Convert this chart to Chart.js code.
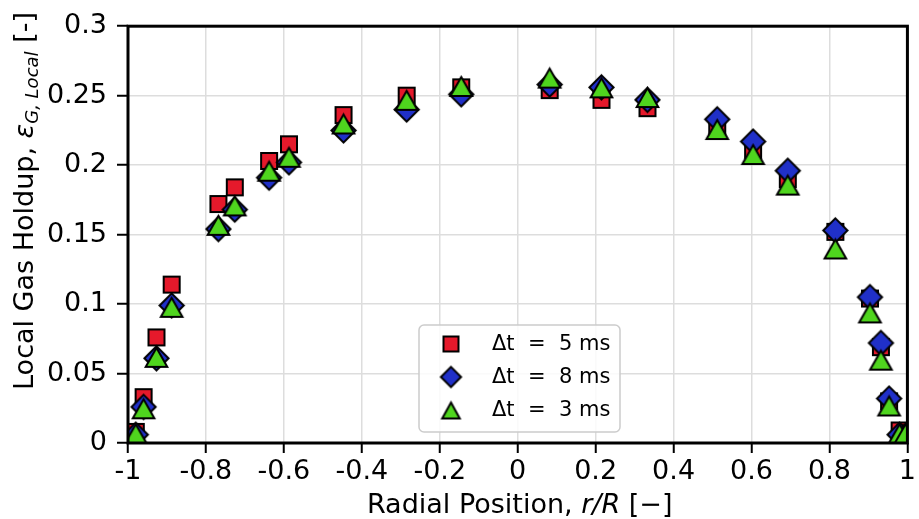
<!DOCTYPE html>
<html>
<head>
<meta charset="utf-8">
<script src="https://cdn.jsdelivr.net/npm/chart.js@4.4.1/dist/chart.umd.min.js"></script>
<style>
  html, body { margin: 0; padding: 0; background: #fff; }
</style>
</head>
<body>
<canvas id="myChart" width="919" height="519"></canvas>
<script>
// radial positions r/R of the measurement points
var radialPos = [-0.98, -0.96, -0.927, -0.888, -0.768, -0.726, -0.638, -0.587, -0.447, -0.285, -0.145,
  0.082, 0.215, 0.333, 0.512, 0.604, 0.693, 0.815, 0.904, 0.932, 0.953, 0.98, 0.995];

// local gas holdup for each time step
var holdup5ms = [0.008, 0.033, 0.076, 0.114, 0.172, 0.184, 0.203, 0.215, 0.236, 0.250, 0.256,
  0.254, 0.247, 0.241, 0.227, 0.211, 0.190, 0.152, 0.104, 0.069, 0.030, 0.009, 0.007];
var holdup8ms = [0.006, 0.026, 0.061, 0.099, 0.154, 0.168, 0.191, 0.202, 0.225, 0.240, 0.251,
  0.258, 0.256, 0.247, 0.233, 0.217, 0.196, 0.153, 0.105, 0.072, 0.032, 0.006, 0.005];
var holdup3ms = [0.007, 0.025, 0.062, 0.098, 0.157, 0.171, 0.196, 0.206, 0.230, 0.247, 0.257,
  0.263, 0.256, 0.249, 0.226, 0.208, 0.186, 0.140, 0.094, 0.060, 0.027, 0.007, 0.007];

var seriesLabels = ['\u0394t  =  5 ms', '\u0394t  =  8 ms', '\u0394t  =  3 ms'];

var xTicks = [-1, -0.8, -0.6, -0.4, -0.2, 0, 0.2, 0.4, 0.6, 0.8, 1];
var xTickLabels = ['-1', '-0.8', '-0.6', '-0.4', '-0.2', '0', '0.2', '0.4', '0.6', '0.8', '1'];
var yTicks = [0, 0.05, 0.1, 0.15, 0.2, 0.25, 0.3];
var yTickLabels = ['0', '0.05', '0.1', '0.15', '0.2', '0.25', '0.3'];

var RED = '#e5192b';
var BLUE = '#2030c8';
var GREEN = '#4fd51e';
var FONT = 'DejaVu Sans';

// marker images, shapes centred on their bounding box like matplotlib
function makeMarker(shape, fill, w, h) {
  var c = document.createElement('canvas');
  c.width = w + 4;
  c.height = h + 4;
  var ctx = c.getContext('2d');
  var cx = c.width / 2, cy = c.height / 2;
  ctx.fillStyle = fill;
  ctx.strokeStyle = '#000';
  ctx.lineWidth = 2;
  ctx.lineJoin = 'miter';
  ctx.beginPath();
  if (shape == 'square') {
    ctx.rect(cx - w / 2 + 1, cy - h / 2 + 1, w - 2, h - 2);
  } else if (shape == 'diamond') {
    var a = w / 2 - 1.4, b = h / 2 - 1.4;
    ctx.moveTo(cx, cy - b);
    ctx.lineTo(cx + a, cy);
    ctx.lineTo(cx, cy + b);
    ctx.lineTo(cx - a, cy);
    ctx.closePath();
  } else {
    ctx.moveTo(cx, cy - h / 2 + 2);
    ctx.lineTo(cx + w / 2 - 1.7, cy + h / 2 - 1);
    ctx.lineTo(cx - w / 2 + 1.7, cy + h / 2 - 1);
    ctx.closePath();
  }
  ctx.fill();
  ctx.stroke();
  return c;
}

var markers = [makeMarker('square', RED, 18, 18), makeMarker('diamond', BLUE, 27, 27), makeMarker('triangle', GREEN, 25, 22)];
var legendMarkers = [makeMarker('square', RED, 17, 17), makeMarker('diamond', BLUE, 23, 23), makeMarker('triangle', GREEN, 21, 19)];

function points(ys) {
  return radialPos.map(function (x, i) { return { x: x, y: ys[i] }; });
}

// black box around the plot area
var framePlugin = {
  id: 'frame',
  afterDatasetsDraw: function (chart) {
    var a = chart.chartArea, ctx = chart.ctx;
    ctx.save();
    ctx.strokeStyle = '#000';
    ctx.lineWidth = 3;
    ctx.strokeRect(a.left, a.top, a.right - a.left, a.bottom - a.top);
    ctx.restore();
  }
};

// axis titles (italic / subscript parts) and the boxed legend
var textPlugin = {
  id: 'texts',
  afterDraw: function (chart) {
    var ctx = chart.ctx, a = chart.chartArea;
    ctx.save();
    ctx.fillStyle = '#000';
    ctx.textBaseline = 'alphabetic';
    ctx.textAlign = 'left';

    // x title
    drawParts(ctx, [['Radial Position, ', '27px ' + FONT, 0], ['r/R', 'italic 27px ' + FONT, 0],
      [' [\u2212]', '27px ' + FONT, 0]], (a.left + a.right) / 2 + 2, 513);

    // y title
    ctx.save();
    ctx.translate(33, 201);
    ctx.rotate(-Math.PI / 2);
    drawParts(ctx, [['Local Gas Holdup, ', '27px ' + FONT, 0], ['\u03b5', 'italic 27px ' + FONT, 0],
      ['G, Local', 'italic 18px ' + FONT, 5], [' [-]', '27px ' + FONT, 0]], 0, 0);
    ctx.restore();

    // legend
    var lx = 419, ly = 325, lw = 201, lh = 107;
    ctx.beginPath();
    if (ctx.roundRect) ctx.roundRect(lx, ly, lw, lh, 5); else ctx.rect(lx, ly, lw, lh);
    ctx.fillStyle = 'rgba(255,255,255,0.85)';
    ctx.fill();
    ctx.strokeStyle = '#cccccc';
    ctx.lineWidth = 1.5;
    ctx.stroke();
    ctx.fillStyle = '#000';
    ctx.font = '21px ' + FONT;
    ctx.textBaseline = 'middle';
    var rows = [344, 377, 410];
    chart.data.datasets.forEach(function (ds, i) {
      var m = legendMarkers[i];
      ctx.drawImage(m, 451 - m.width / 2, rows[i] - m.height / 2);
      ctx.fillText(ds.label, 492, rows[i] + 1);
    });
    ctx.restore();
  }
};

function drawParts(ctx, parts, cx, baseY) {
  var total = 0;
  parts.forEach(function (p) { ctx.font = p[1]; total += ctx.measureText(p[0]).width; });
  var x = cx - total / 2;
  parts.forEach(function (p) {
    ctx.font = p[1];
    ctx.fillText(p[0], x, baseY + p[2]);
    x += ctx.measureText(p[0]).width;
  });
}

var ctxMain = document.getElementById('myChart').getContext('2d');

var myChart = new Chart(ctxMain, {
  type: 'scatter',
  data: {
    datasets: [{
      label: seriesLabels[0],
      data: points(holdup5ms),
      pointStyle: markers[0],
      pointRadius: 10,
      clip: 0,
      order: 3
    }, {
      label: seriesLabels[1],
      data: points(holdup8ms),
      pointStyle: markers[1],
      pointRadius: 10,
      clip: 0,
      order: 2
    }, {
      label: seriesLabels[2],
      data: points(holdup3ms),
      pointStyle: markers[2],
      pointRadius: 10,
      clip: 0,
      order: 1
    }]
  },
  options: {
    responsive: false,
    animation: false,
    layout: { padding: { left: 0, top: 23, right: 9, bottom: 0 } },
    plugins: {
      legend: { display: false },
      tooltip: { enabled: false }
    },
    scales: {
      x: {
        type: 'linear',
        min: -1,
        max: 1,
        afterBuildTicks: function (scale) {
          scale.ticks = xTicks.map(function (v) { return { value: v }; });
        },
        afterFit: function (scale) { scale.height = 76; },
        ticks: {
          autoSkip: false,
          maxRotation: 0,
          padding: 3,
          color: '#000',
          font: { family: FONT, size: 27 },
          callback: function (v, i) { return xTickLabels[i]; }
        },
        grid: { color: '#dddddd', lineWidth: 1.5, tickLength: 10, tickColor: '#000', tickWidth: 2 },
        border: { display: false }
      },
      y: {
        type: 'linear',
        min: 0,
        max: 0.3,
        afterBuildTicks: function (scale) {
          scale.ticks = yTicks.map(function (v) { return { value: v }; });
        },
        afterFit: function (scale) { scale.width = 128; },
        ticks: {
          autoSkip: false,
          padding: 10,
          color: '#000',
          font: { family: FONT, size: 27 },
          callback: function (v, i) { return yTickLabels[i]; }
        },
        grid: { color: '#dddddd', lineWidth: 1.5, tickLength: 11, tickColor: '#000', tickWidth: 2 },
        border: { display: false }
      }
    }
  },
  plugins: [framePlugin, textPlugin]
});
</script>
</body>
</html>
